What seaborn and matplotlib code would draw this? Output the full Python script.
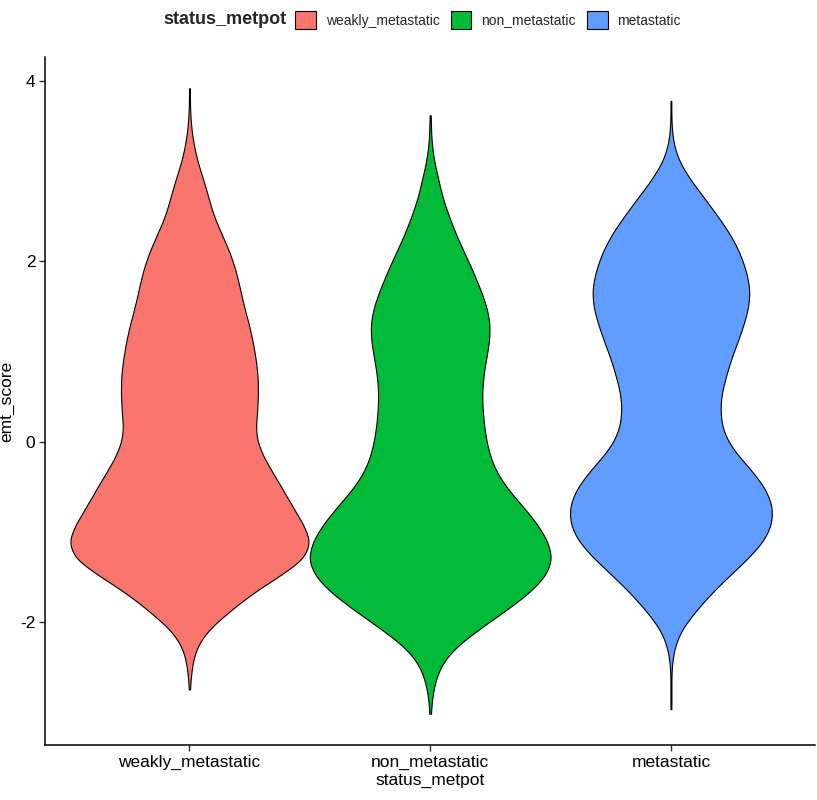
import numpy as np
import pandas as pd
import matplotlib
matplotlib.use("Agg")
import matplotlib.pyplot as plt
from matplotlib.patches import Patch
import seaborn as sns

# groups in plotting order and their fills (ggplot default hues)
groups = ["weakly_metastatic", "non_metastatic", "metastatic"]
colors = ["#F8766D", "#00BA38", "#619CFF"]

# emt_score values, binned every 0.2
bin_centres = [3.5, 3.3, 3.1, 2.9, 2.7, 2.5, 2.3, 2.1, 1.9, 1.7, 1.5, 1.3, 1.1,
               0.9, 0.7, 0.5, 0.3, 0.1, -0.1, -0.3, -0.5, -0.7, -0.9, -1.1,
               -1.3, -1.5, -1.7, -1.9, -2.1, -2.3, -2.5, -2.7, -2.9]

weakly_counts = [3, 8, 16, 28, 38, 48, 64, 80, 92, 100, 108, 118, 126,
                 132, 136, 136, 134, 130, 140, 160, 182, 202, 224, 242,
                 230, 176, 120, 76, 34, 12, 4, 0, 0]
non_counts = [1, 3, 8, 17, 25, 38, 52, 69, 86, 101, 115, 122, 120,
              113, 107, 105, 107, 111, 118, 130, 153, 185, 216, 239,
              250, 235, 197, 147, 94, 46, 19, 8, 2]
meta_counts = [1, 4, 14, 34, 58, 81, 103, 119, 130, 137, 135, 126, 115,
               103, 94, 86, 85, 90, 108, 137, 162, 176, 176, 162,
               133, 99, 67, 40, 16, 5, 1, 0, 0]

# the lone extreme values that make the thin tails
weakly_extremes = [3.92, 3.7, -2.58, -2.75]
non_extremes = [3.62, -3.02]
meta_extremes = [3.78, -2.75, -2.97]

frames = []
for name, counts, extremes in zip(groups,
                                  [weakly_counts, non_counts, meta_counts],
                                  [weakly_extremes, non_extremes, meta_extremes]):
    vals = np.concatenate([np.repeat(bin_centres, counts), extremes])
    frames.append(pd.DataFrame({"status_metpot": name, "emt_score": vals}))
df = pd.concat(frames, ignore_index=True)

sns.set_style("ticks")
plt.rcParams["font.family"] = ["Liberation Sans", "DejaVu Sans"]

fig = plt.figure(figsize=(8.17, 8.0), dpi=100)
ax = fig.add_axes([45 / 817, 1 - 745 / 800, 1 - 45 / 817 - 0.002, (745 - 57) / 800])

# one colour first, then each violin gets its own fill
sns.violinplot(data=df, x="status_metpot", y="emt_score", order=groups,
               color=colors[0], cut=0, inner=None, density_norm="count",
               width=1.0, bw_method=0.1, gridsize=300, linewidth=0.8,
               linecolor="black", saturation=1, ax=ax)
for coll, c in zip(ax.collections, colors):
    coll.set_facecolor(c)

lo, hi = df["emt_score"].min(), df["emt_score"].max()
pad = 0.05 * (hi - lo)
ax.set_ylim(lo - pad, hi + pad)
ax.set_xlim(-0.6, 2.6)
ax.set_yticks([-2, 0, 2, 4])
ax.set_yticklabels(["-2", "0", "2", "4"])

for side in ["top", "right"]:
    ax.spines[side].set_visible(False)
for side in ["left", "bottom"]:
    ax.spines[side].set_color("black")
    ax.spines[side].set_linewidth(1.1)
ax.tick_params(axis="both", length=4, width=1.0, color="#333333",
               labelsize=12.5, labelcolor="black", pad=3)
ax.set_xlabel("status_metpot", fontsize=12.5, color="black", labelpad=2)
ax.set_ylabel("emt_score", fontsize=12.5, color="black", labelpad=4)

# legend on top, title to the left of the keys
fig.text(163 / 817, 1 - 20 / 800, "status_metpot", fontsize=13, fontweight="bold",
         ha="left", va="center")
handles = [Patch(facecolor=c, edgecolor="black", linewidth=0.8) for c in colors]
fig.legend(handles, groups, ncol=3, frameon=False, fontsize=10,
           loc="center left", bbox_to_anchor=(295 / 817, 1 - 20 / 800),
           handlelength=1.5, handleheight=1.7, handletextpad=0.7,
           columnspacing=0.8, borderpad=0, borderaxespad=0)

fig.savefig("out.png", dpi=100)
